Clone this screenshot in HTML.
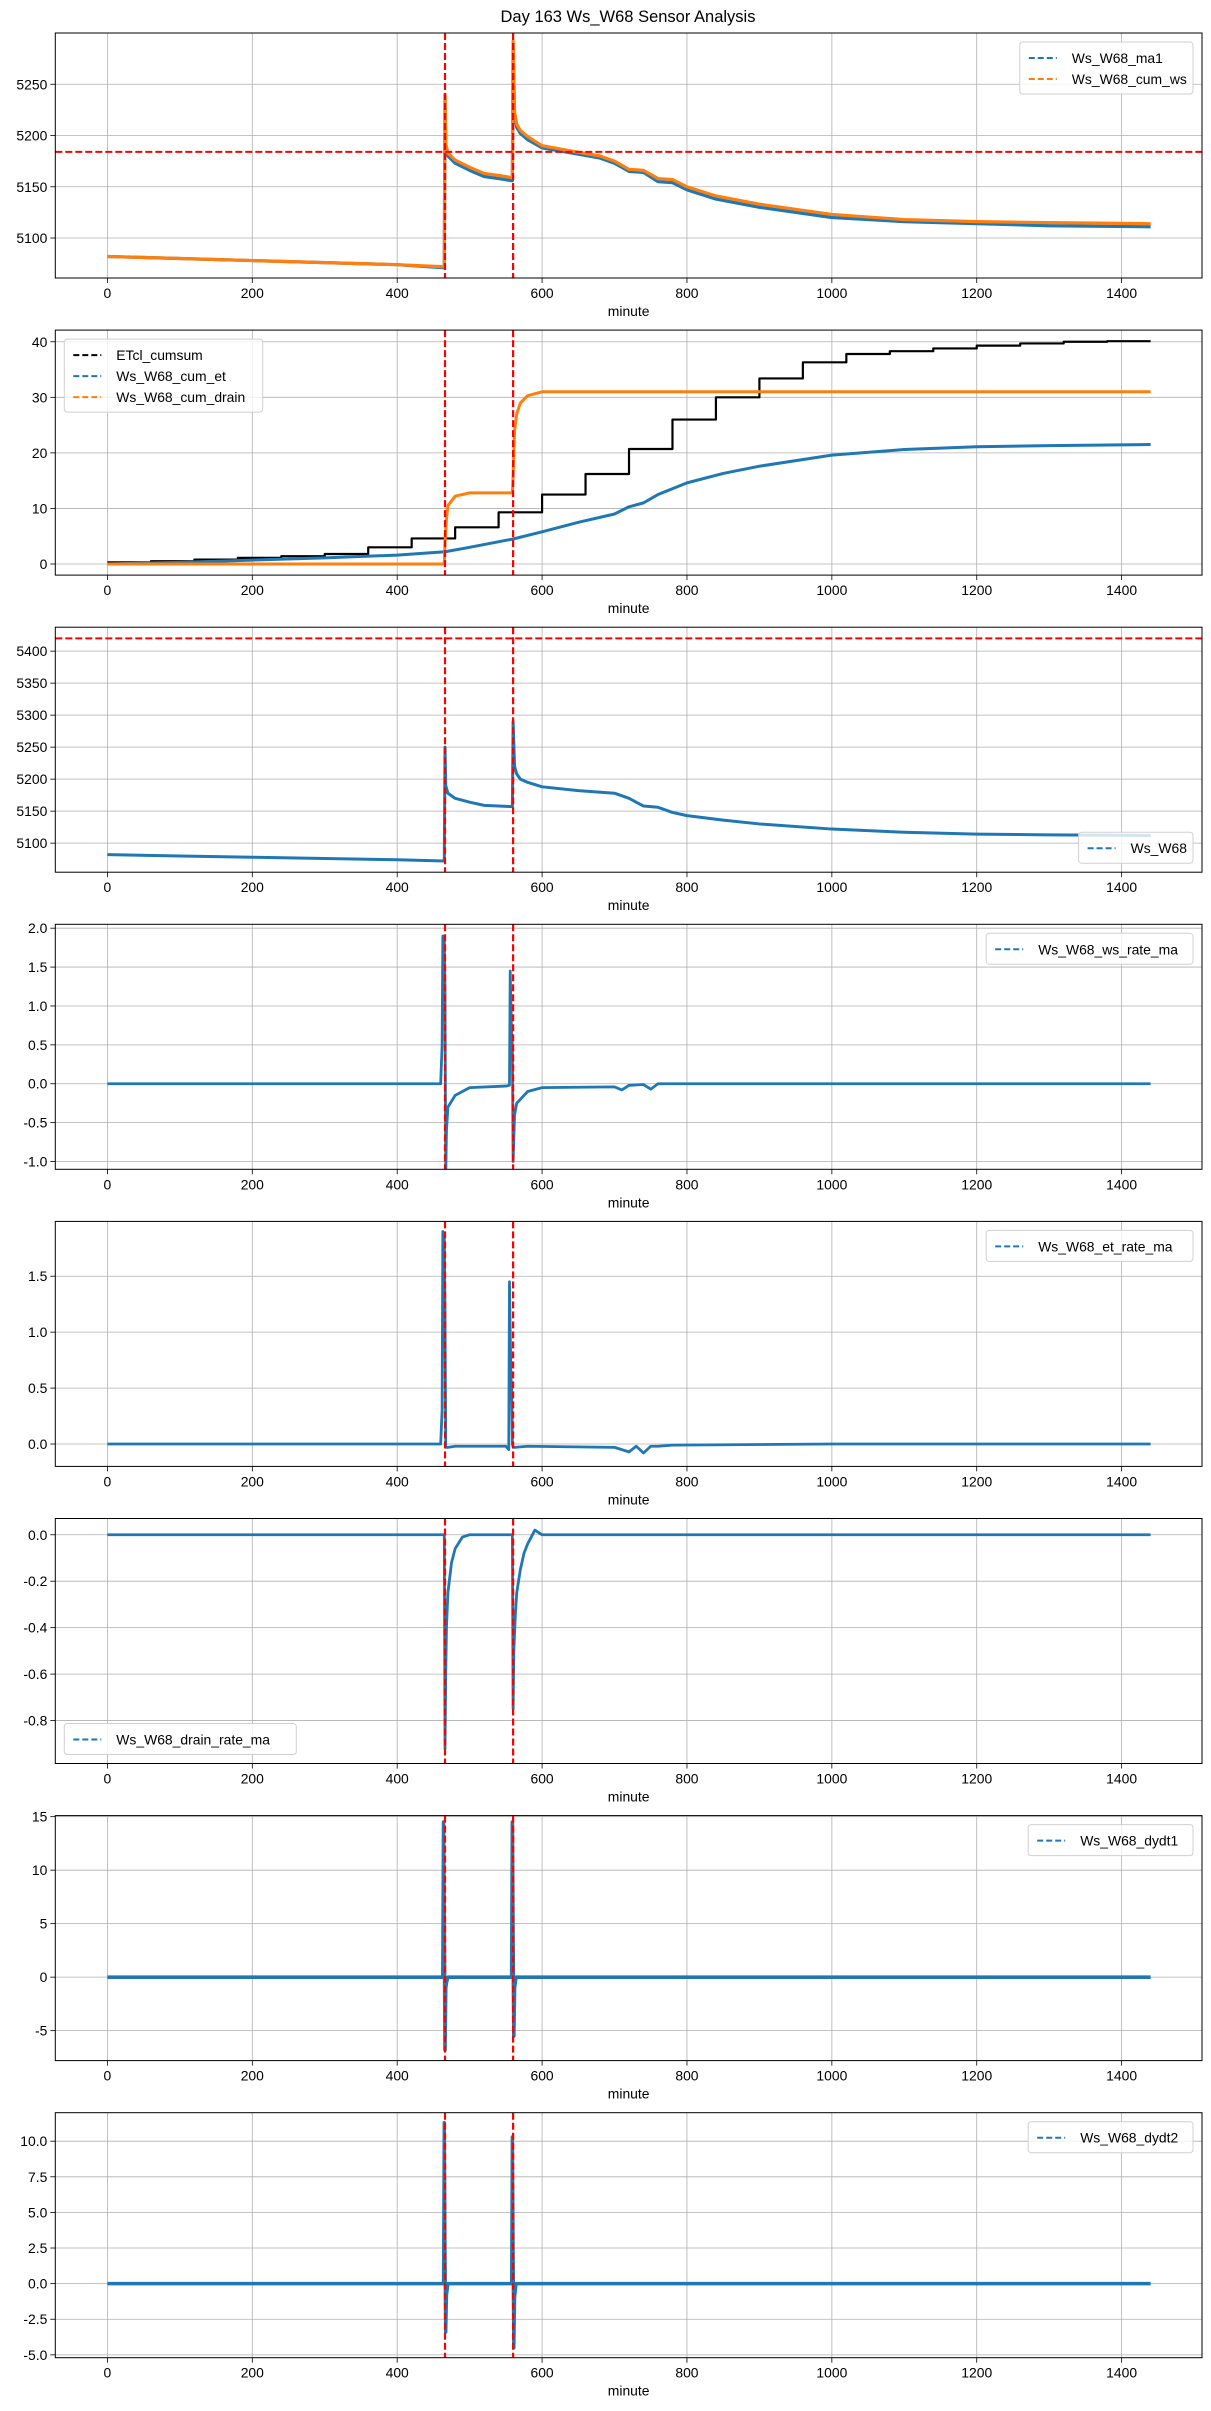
<!DOCTYPE html>
<html><head><meta charset="utf-8"><style>
html,body{margin:0;padding:0;background:#fff;}
svg{display:block;font-family:"Liberation Sans","DejaVu Sans",sans-serif;}
</style></head><body>
<svg id="fig" width="1211" height="2411" viewBox="0 0 1211 2411" xmlns="http://www.w3.org/2000/svg">
<text x="628" y="22" text-anchor="middle" font-size="16.5" fill="#000">Day 163 Ws_W68 Sensor Analysis</text>
</svg>
<script>
// ---------- data ----------
const xTicks = [0,200,400,600,800,1000,1200,1400];
const eventMinutes = [466, 560];

// panel 1
const p1_ma1_x = [0,100,200,300,400,465,466,467,470,480,500,520,540,558,559,560,562,565,570,580,600,640,680,700,720,740,760,780,800,840,900,1000,1100,1200,1300,1440];
const p1_ma1_y = [5082,5080,5078,5076,5074,5071,5240,5190,5180,5173,5166,5160,5158,5156,5156,5290,5220,5208,5202,5196,5188,5183,5178,5173,5165,5164,5155,5154,5147,5138,5130,5120,5116,5114,5112,5111];
const p1_cum_y = [5082,5080,5078,5076,5074,5072,5240,5192,5183,5176,5169,5163,5161,5159,5159,5292,5223,5211,5205,5199,5190,5185,5180,5175,5167,5166,5158,5157,5150,5141,5133,5123,5118,5116,5115,5114];
const p1_hline = [5184];

// panel 2
const p2_etcl_x = [0,60,120,180,240,300,360,420,480,540,600,660,720,780,840,900,960,1020,1080,1140,1200,1260,1320,1380,1440];
const p2_etcl_y = [0.3,0.5,0.8,1.1,1.4,1.8,3.0,4.6,6.6,9.3,12.5,16.2,20.7,26.0,30.0,33.4,36.3,37.8,38.3,38.8,39.3,39.7,40.0,40.1,40.1];
const p2_et_x = [0,100,200,300,400,466,500,560,600,650,700,720,740,760,800,850,900,1000,1100,1200,1300,1440];
const p2_et_y = [0,0.3,0.7,1.1,1.6,2.2,3.0,4.5,5.8,7.5,9.0,10.3,11.0,12.5,14.6,16.3,17.6,19.6,20.6,21.1,21.3,21.5];
const p2_drain_x = [0,465,466,468,470,480,500,558,559,560,562,565,570,580,600,1440];
const p2_drain_y = [0,0,4,8,10.5,12.2,12.8,12.8,12.9,16,24,27,29,30.3,31,31];

// panel 3
const p3_x = [0,100,200,300,400,465,466,467,470,480,500,520,540,558,559,560,562,565,570,580,600,650,700,720,740,760,780,800,850,900,1000,1100,1200,1300,1440];
const p3_y = [5082,5080,5078,5076,5074,5072,5250,5190,5178,5170,5164,5159,5158,5157,5157,5290,5220,5208,5200,5195,5188,5182,5178,5170,5158,5156,5148,5143,5136,5130,5122,5117,5114,5113,5112];
const p3_hline = [5420];

// panel 4
const p4_x = [0,300,460,462,463,465,466,467,468,470,480,500,550,555,556,557,558,559,560,562,565,580,600,700,710,720,740,750,760,780,1000,1440];
const p4_y = [0,0,0,0.5,1.9,1.9,1.2,-1.2,-0.6,-0.3,-0.15,-0.05,-0.03,-0.02,1.45,1.0,0.6,0.5,-1.0,-0.4,-0.25,-0.1,-0.05,-0.04,-0.08,-0.02,-0.01,-0.07,0,0,0,0];

// panel 5
const p5_x = [0,300,460,462,463,465,466,467,468,470,480,550,554,555,556,557,558,559,560,562,580,700,720,730,740,750,760,780,1000,1440];
const p5_y = [0,0,0,0.3,1.9,1.85,1.2,-0.03,-0.03,-0.03,-0.02,-0.02,-0.05,1.45,1.0,0.6,0.5,0.0,-0.03,-0.03,-0.02,-0.03,-0.07,-0.02,-0.08,-0.02,-0.02,-0.01,0,0];

// panel 6
const p6_x = [0,465,466,467,468,470,475,480,490,500,558,559,560,561,563,565,570,575,580,590,600,1440];
const p6_y = [0,0,-0.92,-0.6,-0.4,-0.25,-0.12,-0.06,-0.01,0,0,0,-0.75,-0.5,-0.35,-0.25,-0.15,-0.08,-0.04,0.02,0,0];

// panel 7
const p7_x = [0,463,464,465,466,467,468,470,557,558,559,560,561,562,564,1440];
const p7_y = [0,0,14.5,5,-6.8,-1,-0.5,0,0,0,14.5,3,-5.5,-1,0,0];

// panel 8
const p8_x = [0,463,464,465,466,467,468,470,557,558,559,560,561,562,564,1440];
const p8_y = [0,0,0,11.3,2,-3.4,-0.8,0,0,0,10.3,2,-4.5,-1,0,0];

const yTicks1 = [5100,5150,5200,5250];
const yTicks2 = [0,10,20,30,40];
const yTicks3 = [5100,5150,5200,5250,5300,5350,5400];
const yTicks4 = [-1.0,-0.5,0.0,0.5,1.0,1.5,2.0];
const yTicks5 = [0.0,0.5,1.0,1.5];
const yTicks6 = [-0.8,-0.6,-0.4,-0.2,0.0];
const yTicks7 = [-5,0,5,10,15];
const yTicks8 = [-5.0,-2.5,0.0,2.5,5.0,7.5,10.0];

// ---------- drawing ----------
const NS = "http://www.w3.org/2000/svg";
const svg = document.getElementById('fig');
const L = 55.3, R = 1202, TOP0 = 33, PITCH = 297.1, H = 245;
const XMIN = -71.95, XMAX = 1510.95;
const BLUE = "#1f77b4", ORANGE = "#ff7f0e";
function sx(v){ return L + (v - XMIN) / (XMAX - XMIN) * (R - L); }
function mk(tag, attrs, parent){ const e = document.createElementNS(NS, tag); for (const k in attrs) e.setAttribute(k, attrs[k]); (parent||svg).appendChild(e); return e; }

function panel(i, ylo, yhi, yticks, decimals, series, hlines, legendPos, name){
  const top = TOP0 + PITCH*i, bot = top + H;
  const g = mk('g', {});
  
  
  const sy = v => bot - (v - ylo) / (yhi - ylo) * H;
  xTicks.forEach(t => {
    const gl = mk('line', {x1:sx(t), x2:sx(t), y1:top, y2:bot, stroke:'#b0b0b0', 'stroke-width':0.8}, g);
    
    
    mk('line', {x1:sx(t), x2:sx(t), y1:bot, y2:bot+5, stroke:'#000', 'stroke-width':0.8}, g);
    const tl = mk('text', {x:sx(t), y:bot+20, 'text-anchor':'middle', 'font-size':13.9, fill:'#000'}, g);
    tl.textContent = t;
    
    
  });
  yticks.forEach(t => {
    const y = sy(t);
    const gl = mk('line', {x1:L, x2:R, y1:y, y2:y, stroke:'#b0b0b0', 'stroke-width':0.8}, g);
    
    
    mk('line', {x1:L-5, x2:L, y1:y, y2:y, stroke:'#000', 'stroke-width':0.8}, g);
    const tl = mk('text', {x:L-8, y:y+5, 'text-anchor':'end', 'font-size':13.9, fill:'#000'}, g);
    tl.textContent = t.toFixed(decimals);
    
    
  });
  const cid = 'clip' + i;
  const cp = mk('clipPath', {id:cid}, g);
  mk('rect', {x:L, y:top, width:R-L, height:H}, cp);
  const pg = mk('g', {'clip-path':'url(#'+cid+')'}, g);
  series.forEach(s => {
    let d = '';
    for (let k = 0; k < s.x.length; k++){
      const px = sx(s.x[k]), py = sy(s.y[k]);
      if (s.step && k > 0) d += 'L' + px.toFixed(2) + ',' + sy(s.y[k-1]).toFixed(2);
      d += (k ? 'L' : 'M') + px.toFixed(2) + ',' + py.toFixed(2);
    }
    const p = mk('path', {d:d, fill:'none', stroke:s.color, 'stroke-width':s.w||2.8, 'stroke-linejoin':'round'}, pg);
    
    
  });
  hlines.forEach(v => {
    const hl = mk('line', {x1:L, x2:R, y1:sy(v), y2:sy(v), stroke:'#ff0000', 'stroke-width':2, 'stroke-dasharray':'7,3'}, pg);
    
    
  });
  eventMinutes.forEach(v => {
    const vl = mk('line', {x1:sx(v), x2:sx(v), y1:top, y2:bot, stroke:'#ff0000', 'stroke-width':2.2, 'stroke-dasharray':'7,3'}, pg);
    
    
  });
  mk('rect', {x:L, y:top, width:R-L, height:H, fill:'none', stroke:'#000', 'stroke-width':1}, g);
  const xl = mk('text', {x:(L+R)/2, y:bot+38, 'text-anchor':'middle', 'font-size':13.9, fill:'#000'}, g);
  xl.textContent = 'minute';
  
  
  const labels = series.map(s => s.label);
  const maxLen = Math.max(...labels.map(l => l.length));
  const lw = 64 + maxLen * 8.4, lh = 10 + labels.length * 21;
  let lx, ly;
  if (legendPos === 'ur'){ lx = R - 9 - lw; ly = top + 9; }
  else if (legendPos === 'ul'){ lx = L + 9; ly = top + 9; }
  else if (legendPos === 'lr'){ lx = R - 9 - lw; ly = bot - 9 - lh; }
  else { lx = L + 9; ly = bot - 9 - lh; }
  const lg = mk('g', {}, g);
  
  
  mk('rect', {x:lx, y:ly, width:lw, height:lh, rx:3, fill:'#fff', 'fill-opacity':0.8, stroke:'#d0d0d0', 'stroke-width':1}, lg);
  series.forEach((s, k) => {
    const yy = ly + 16 + k*21;
    mk('line', {x1:lx+9, x2:lx+37, y1:yy, y2:yy, stroke:s.color, 'stroke-width':2, 'stroke-dasharray':'6,3'}, lg);
    const t = mk('text', {x:lx+52, y:yy+5, 'font-size':13.9, fill:'#000'}, lg);
    t.textContent = s.label;
    
    
  });
}

panel(0, 5061, 5300, yTicks1, 0, [
  {x:p1_ma1_x, y:p1_ma1_y, color:BLUE, label:'Ws_W68_ma1', w:3.2},
  {x:p1_ma1_x, y:p1_cum_y, color:ORANGE, label:'Ws_W68_cum_ws', w:3.2}
], p1_hline, 'ur', 'ma1-cum-ws');

panel(1, -2.0, 42.1, yTicks2, 0, [
  {x:p2_etcl_x, y:p2_etcl_y, color:'#000', label:'ETcl_cumsum', step:true, w:2.2},
  {x:p2_et_x, y:p2_et_y, color:BLUE, label:'Ws_W68_cum_et', w:3},
  {x:p2_drain_x, y:p2_drain_y, color:ORANGE, label:'Ws_W68_cum_drain', w:3}
], [], 'ul', 'cumulative');

panel(2, 5054.6, 5437.4, yTicks3, 0, [
  {x:p3_x, y:p3_y, color:BLUE, label:'Ws_W68', w:3}
], p3_hline, 'lr', 'raw-weight');

panel(3, -1.1, 2.05, yTicks4, 1, [
  {x:p4_x, y:p4_y, color:BLUE, label:'Ws_W68_ws_rate_ma'}
], [], 'ur', 'ws-rate');

panel(4, -0.2, 1.99, yTicks5, 1, [
  {x:p5_x, y:p5_y, color:BLUE, label:'Ws_W68_et_rate_ma'}
], [], 'ur', 'et-rate');

panel(5, -0.985, 0.07, yTicks6, 1, [
  {x:p6_x, y:p6_y, color:BLUE, label:'Ws_W68_drain_rate_ma'}
], [], 'll', 'drain-rate');

panel(6, -7.8, 15.1, yTicks7, 0, [
  {x:p7_x, y:p7_y, color:BLUE, label:'Ws_W68_dydt1', w:3.6}
], [], 'ur', 'dydt1');

panel(7, -5.2, 12.0, yTicks8, 1, [
  {x:p8_x, y:p8_y, color:BLUE, label:'Ws_W68_dydt2', w:3.4}
], [], 'ur', 'dydt2');
</script>
</body></html>
